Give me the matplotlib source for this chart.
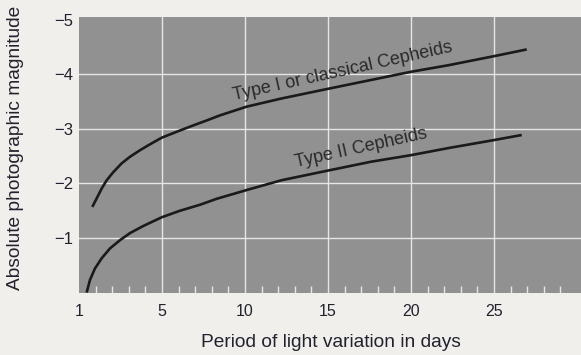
import matplotlib
matplotlib.use("Agg")
import matplotlib.pyplot as plt

plt.rcParams['font.family'] = ['Liberation Sans', 'DejaVu Sans']

# Data (period in days, absolute photographic magnitude)
type1_period = [0.80, 1.07, 1.37, 1.67, 2.07, 2.57, 3.07, 3.67, 4.28, 4.98, 5.89,
                6.92, 7.72, 8.49, 10.1, 12.2, 15.2, 17.6, 20.0, 22.25, 25.06, 26.97]
type1_mag = [-1.57, -1.73, -1.91, -2.06, -2.21, -2.37, -2.49, -2.61, -2.72, -2.84, -2.95,
             -3.07, -3.16, -3.25, -3.41, -3.56, -3.75, -3.90, -4.05, -4.17, -4.34, -4.46]
type2_period = [0.46, 0.66, 0.96, 1.37, 1.87, 2.47, 3.07, 3.87, 4.98, 6.08, 7.29,
                8.3, 10.1, 12.2, 15.2, 17.6, 20.0, 22.25, 25.06, 26.67]
type2_mag = [0.0, -0.23, -0.44, -0.63, -0.81, -0.96, -1.09, -1.22, -1.38, -1.50, -1.61,
             -1.72, -1.88, -2.06, -2.25, -2.40, -2.52, -2.65, -2.80, -2.89]

x_tick_pos = [0, 5, 10, 15, 20, 25]
x_tick_labels = ['1', '5', '10', '15', '20', '25']
y_ticks = [-1, -2, -3, -4, -5]
minor_days = [1, 2, 3, 4, 6, 7, 8, 9, 11, 12, 13, 14, 16, 17, 18, 19, 21, 22, 23, 24, 26, 27, 28, 29]

label1 = "Type I or classical Cepheids"
label2 = "Type II Cepheids"

fig = plt.figure(figsize=(5.81, 3.55), dpi=100, facecolor='#f1efec')
ax = fig.add_axes([79/581, (355-292.5)/355, 1 - 79/581, (292.5-17)/355])
ax.set_facecolor('#919191')

ax.plot(type1_period, type1_mag, color='#1a1a1a', lw=1.9, solid_capstyle='butt', solid_joinstyle='round')
ax.plot(type2_period, type2_mag, color='#1a1a1a', lw=1.9, solid_capstyle='butt', solid_joinstyle='round')

ax.set_xlim(0, 30.24)
ax.set_ylim(0, -5.055)

ax.set_xticks(x_tick_pos)
ax.set_xticklabels(x_tick_labels)
ax.set_xticks(minor_days, minor=True)
ax.set_yticks(y_ticks)
ax.set_yticklabels([str(v).replace('-', '\u2212') for v in y_ticks])

ax.grid(True, which='major', color='#e6e6e6', lw=1.0)
ax.get_xgridlines()[0].set_visible(False)
ax.get_ygridlines()[-1].set_visible(False)
ax.tick_params(axis='both', which='major', length=0, labelcolor='#22222e')
ax.tick_params(axis='x', which='major', pad=8, labelsize=11.5)
ax.tick_params(axis='y', which='major', pad=4, labelsize=12)
ax.tick_params(axis='x', which='minor', direction='in', length=5, width=1, color='#e6e6e6')
for s in ax.spines.values():
    s.set_visible(False)

ax.text(15.9, -4.05, label1, rotation=12.5, ha='center', va='center',
        fontsize=13, color='#2a2a2a', rotation_mode='anchor')
ax.text(17.0, -2.65, label2, rotation=12.5, ha='center', va='center',
        fontsize=13, color='#2a2a2a', rotation_mode='anchor')

fig.text(331/581, (355-347)/355, "Period of light variation in days", fontsize=13.8,
         color='#22222e', ha='center', va='baseline')
fig.text(16/581, (355-147.5)/355, "Absolute photographic magnitude", fontsize=13.8,
         color='#22222e', ha='center', va='center', rotation=90)

fig.savefig("out.png", dpi=100, facecolor=fig.get_facecolor())
